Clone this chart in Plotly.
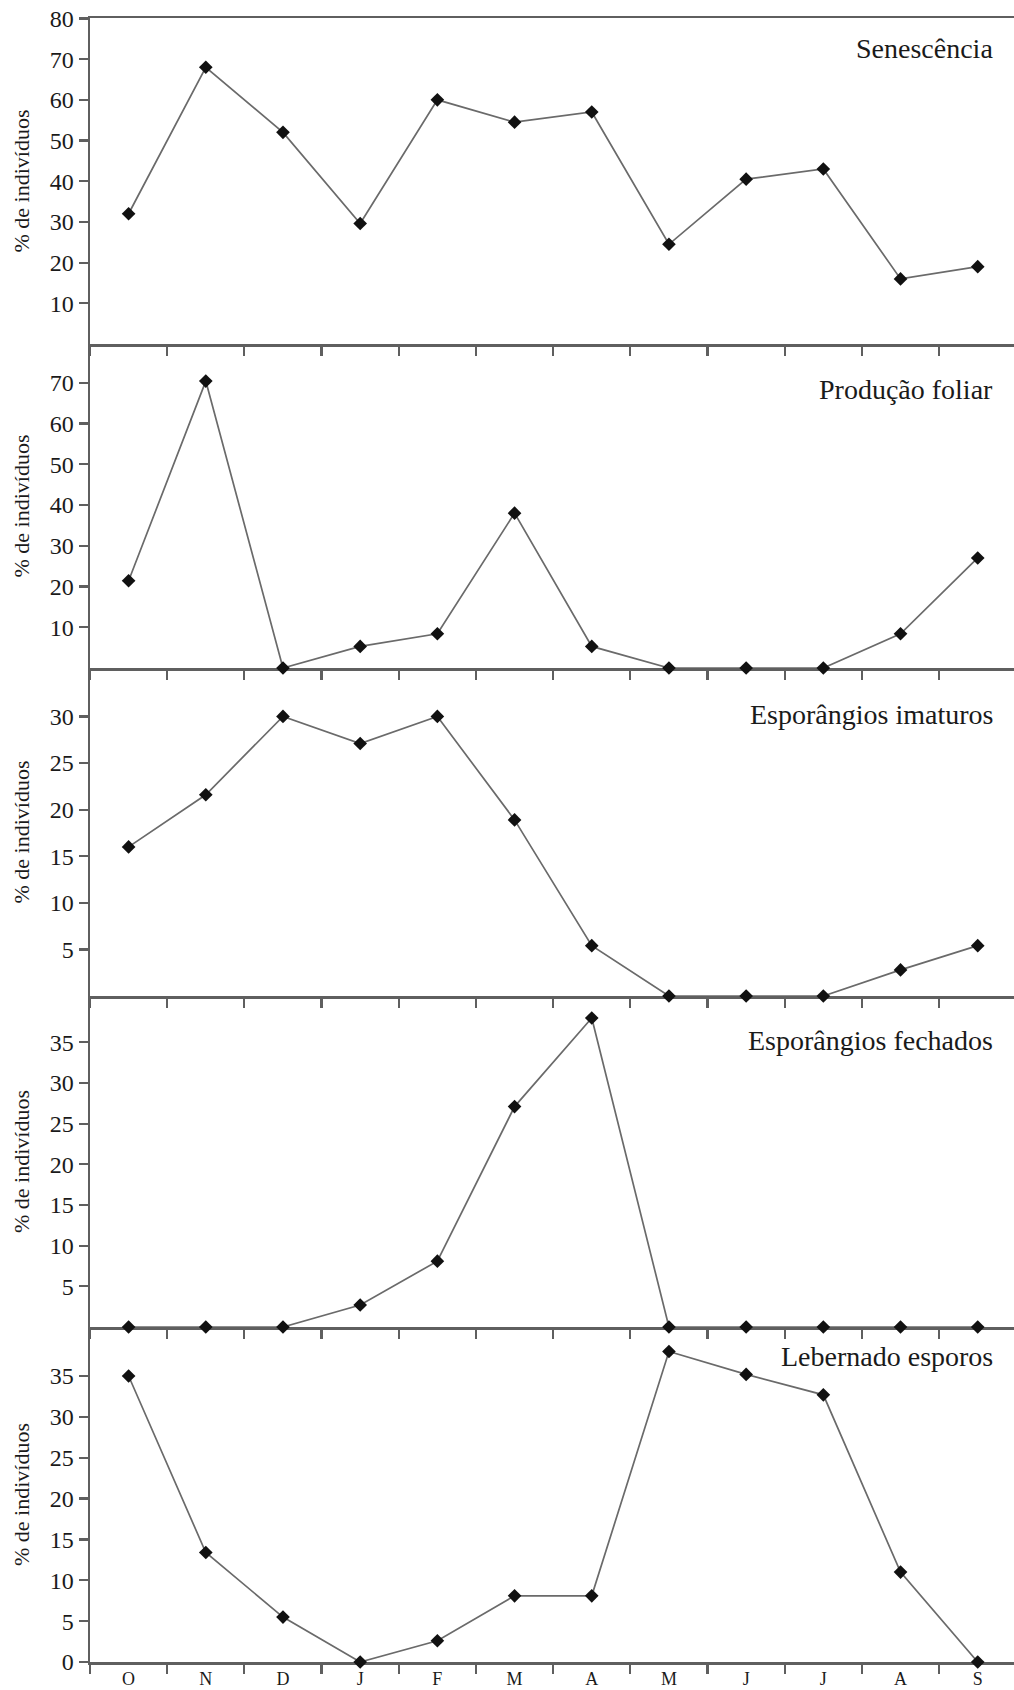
import plotly.graph_objects as go

months = ["O", "N", "D", "J", "F", "M", "A", "M", "J", "J", "A", "S"]
senescencia = [32, 68, 52, 29.6, 60, 54.5, 57, 24.5, 40.5, 43, 16, 19]
producao_foliar = [21.4, 70.4, 0, 5.3, 8.4, 38, 5.3, 0, 0, 0, 8.4, 27]
esporangios_imaturos = [16, 21.6, 30, 27.1, 30, 18.9, 5.4, 0, 0, 0, 2.8, 5.4]
esporangios_fechados = [0, 0, 0, 2.7, 8.1, 27.1, 38, 0, 0, 0, 0, 0]
liberando_esporos = [35, 13.4, 5.5, 0, 2.6, 8.1, 8.1, 38, 35.2, 32.7, 11, 0]

series = [senescencia, producao_foliar, esporangios_imaturos,
          esporangios_fechados, liberando_esporos]
panel_titles = ["Senescência", "Produção foliar", "Esporângios imaturos",
                "Esporângios fechados", "Lebernado esporos"]
y_ranges = [[0, 80.1], [0, 79.5], [0, 35.2], [0, 40.7], [0, 41]]
y_ticks = [list(range(10, 90, 10)), list(range(10, 80, 10)),
           list(range(5, 35, 5)), list(range(5, 40, 5)), list(range(0, 40, 5))]
y_title = "% de indivíduos"

W, H = 1014, 1690
ML, MR, MT = 89.5, 0, 18
bounds = [18, 344, 668, 996, 1327, 1662]  # panel pixel boundaries (top->bottom)
MB = H - bounds[-1]
PH = H - MT - MB
title_px = [48, 389, 715, 1040, 1356]

AX = "#5f5f5f"
FONT = "Liberation Serif"
TXT = "#1a1a1a"
x_idx = list(range(len(months)))

fig = go.Figure()
layout = dict(
    template="none",
    width=W, height=H,
    margin=dict(l=ML, r=MR, t=MT, b=MB, autoexpand=False),
    paper_bgcolor="white", plot_bgcolor="white",
    showlegend=False,
    font=dict(family=FONT, color=TXT),
)
annotations = []
for i, vals in enumerate(series):
    n = i + 1
    xa = "x" if n == 1 else f"x{n}"
    ya = "y" if n == 1 else f"y{n}"
    fig.add_trace(go.Scatter(
        x=x_idx, y=vals, xaxis=xa, yaxis=ya, mode="lines+markers",
        line=dict(color="#6a6a6a", width=1.7),
        marker=dict(symbol="diamond", size=10.5, color="#111111"),
        cliponaxis=False,
    ))
    d0 = (bounds[-1] - bounds[i + 1]) / PH
    d1 = (bounds[-1] - bounds[i]) / PH
    last = (n == len(series))
    layout[f"xaxis{'' if n == 1 else n}"] = dict(
        domain=[0, 1], anchor=ya, range=[-0.5, 11.47],
        showline=True, linecolor=AX, linewidth=2.5, mirror=(n == 1),
        tickmode="array", tickvals=x_idx, ticktext=months,
        ticks="", showticklabels=last, showgrid=False, zeroline=False,
        tickfont=dict(family=FONT, size=18, color=TXT),
        ticklabelstandoff=-1, ticklabeloverflow="allow", automargin=False,
        minor=dict(tickmode="linear", tick0=-0.5, dtick=1, ticks="outside",
                   ticklen=9, tickwidth=2.2, tickcolor=AX, showgrid=False),
        layer="below traces", fixedrange=True,
    )
    layout[f"yaxis{'' if n == 1 else n}"] = dict(
        domain=[d0, d1], anchor=xa, range=y_ranges[i],
        showline=True, linecolor=AX, linewidth=2.5,
        tickmode="array", tickvals=y_ticks[i],
        ticks="outside", ticklen=9, tickwidth=2.2, tickcolor=AX,
        showgrid=False, zeroline=False,
        tickfont=dict(family=FONT, size=24, color=TXT),
        ticklabeloverflow="allow", automargin=False,
        title=dict(text=y_title, font=dict(family=FONT, size=22, color=TXT),
                   standoff=14),
        layer="below traces", fixedrange=True,
    )
    annotations.append(dict(
        text=panel_titles[i], xref="paper", yref="paper",
        x=(995 - ML) / (W - ML - MR), y=(bounds[-1] - title_px[i]) / PH,
        xanchor="right", yanchor="middle", showarrow=False,
        font=dict(family=FONT, size=28, color=TXT),
    ))
layout["annotations"] = annotations
fig.update_layout(**layout)
fig.write_html(
    "out.html",
    config={"displayModeBar": False, "staticPlot": True},
    post_script="document.body.style.margin='0';document.body.style.overflow='hidden';",
)
